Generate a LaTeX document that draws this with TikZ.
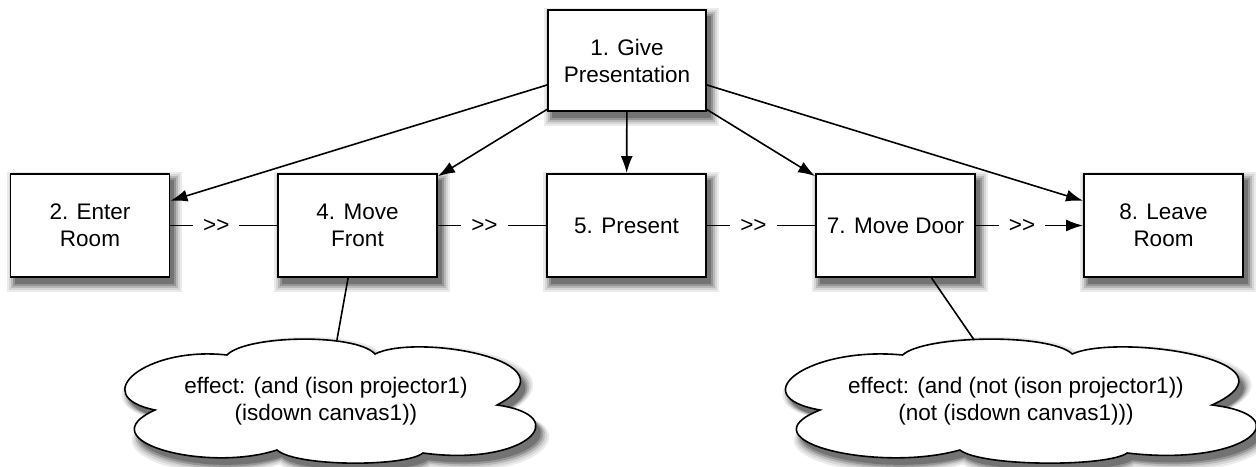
\documentclass[tikz,border=0pt]{standalone}
\usepackage{fontspec}
\setmainfont{Liberation Sans}
\usetikzlibrary{arrows.meta,backgrounds}
\newcommand\boxshadow[1]{%
  \fill[black!8]  ([shift={(-3,-1)}]#1.north west) rectangle ([shift={(12,14)}]#1.south east);
  \fill[black!16] ([shift={(-1,1)}]#1.north west) rectangle ([shift={(10,12)}]#1.south east);
  \fill[black!28] ([shift={(1,3)}]#1.north west) rectangle ([shift={(8,10)}]#1.south east);
  \fill[black!42] ([shift={(3,5)}]#1.north west) rectangle ([shift={(6,8)}]#1.south east);
  \fill[black!55] ([shift={(5,7)}]#1.north west) rectangle ([shift={(4,6)}]#1.south east);}
\begin{document}
\begin{tikzpicture}[x=1pt,y=-1pt,
  every node/.style={font=\fontsize{22.5}{27}\selectfont},
  task/.style={draw, line width=1.9pt, fill=white, minimum width=159pt, minimum height=103pt, align=center, inner sep=0pt},
  conn/.style={line width=1.6pt},
  arr/.style={conn, -{Latex[length=17pt,width=12pt]}},
  seq/.style={fill=white, inner xsep=10pt, inner ysep=2pt, pos=0.43},
  cloudbox/.style={minimum width=412pt, minimum height=122pt, inner sep=0pt, align=center},
  cloudline/.style={draw, line width=1.6pt, fill=white},
  cloudpic/.pic={\path[pic actions] (-171,9) .. controls (-240,-5) and (-180,-55) .. (-99,-46)
      .. controls (-80,-66) and (30,-68) .. (49,-47)
      .. controls (90,-68) and (255,-40) .. (171,4)
      .. controls (250,15) and (200,66) .. (97,52)
      .. controls (80,66) and (-30,66) .. (-49,49)
      .. controls (-120,72) and (-240,40) .. (-171,9) -- cycle;}
]
\useasboundingbox (0,0) rectangle (1256,466);

% cloud shadows
\begin{scope}[shift={(5,7)}]
\pic[fill=black!8,  xscale=1.040, yscale=1.15] at (326,401) {cloudpic};
\pic[fill=black!16, xscale=1.030, yscale=1.11] at (326,401) {cloudpic};
\pic[fill=black!28, xscale=1.020, yscale=1.07] at (326,401) {cloudpic};
\pic[fill=black!42, xscale=1.010, yscale=1.035] at (326,401) {cloudpic};
\pic[fill=black!55] at (326,401) {cloudpic};
\pic[fill=black!8,  xscale=1.186, yscale=1.15] at (1016,401) {cloudpic};
\pic[fill=black!16, xscale=1.176, yscale=1.11] at (1016,401) {cloudpic};
\pic[fill=black!28, xscale=1.166, yscale=1.07] at (1016,401) {cloudpic};
\pic[fill=black!42, xscale=1.156, yscale=1.035] at (1016,401) {cloudpic};
\pic[fill=black!55, xscale=1.146] at (1016,401) {cloudpic};
\end{scope}

% clouds
\pic[cloudline] at (326,401) {cloudpic};
\pic[cloudline, xscale=1.146] at (1016,401) {cloudpic};
\node[cloudbox] (c1) at (326,401) {effect: (and (ison projector1)\\(isdown canvas1))};
\node[cloudbox, minimum width=472pt] (c2) at (1016,401) {effect: (and (not (ison projector1))\\(not (isdown canvas1)))};

% tasks
\node[task, minimum width=158pt, minimum height=101pt] (b1) at (627,60.5) {1. Give\\Presentation};
\node[task] (b2) at (90,225.5) {2. Enter\\Room};
\node[task] (b4) at (357.5,225.5) {4. Move\\Front};
\node[task] (b5) at (626.5,225.5) {5. Present};
\node[task] (b7) at (895.5,225.5) {7. Move Door};
\node[task] (b8) at (1163.5,225.5) {8. Leave\\Room};

\begin{scope}[on background layer]
\boxshadow{b1}\boxshadow{b2}\boxshadow{b4}\boxshadow{b5}\boxshadow{b7}\boxshadow{b8}
\end{scope}

% decomposition arrows
\draw[arr] (b1) -- (b2);
\draw[arr] (b1) -- (b4);
\draw[arr] (b1) -- (b5);
\draw[arr] (b1) -- (b7);
\draw[arr] (b1) -- (b8);

% ordering
\draw[conn] (b2) -- node[seq] {>\kern0pt>} (b4);
\draw[conn] (b4) -- node[seq] {>\kern0pt>} (b5);
\draw[conn] (b5) -- node[seq] {>\kern0pt>} (b7);
\draw[arr] (b7) -- node[seq] {>\kern0pt>} (b8);

% effects
\draw[conn] (b4) -- (c1);
\draw[conn] (b7) -- (c2);
\end{tikzpicture}
\end{document}
